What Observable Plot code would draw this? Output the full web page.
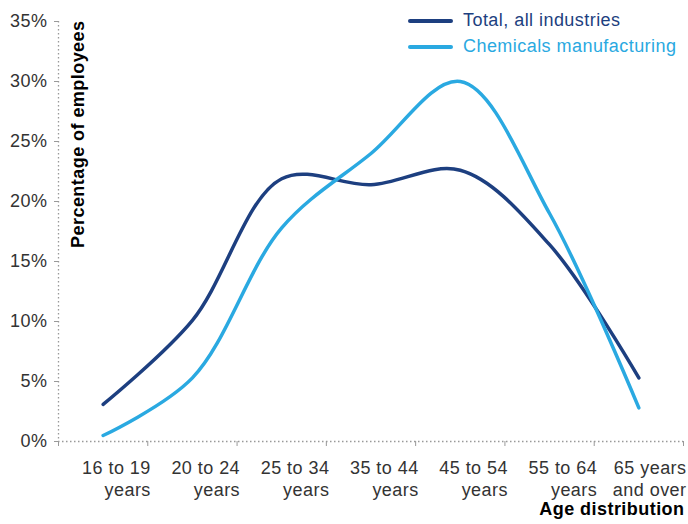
<!DOCTYPE html>
<html>
<head>
<meta charset="utf-8">
<script src="https://cdn.jsdelivr.net/npm/d3@7"></script>
<script src="https://cdn.jsdelivr.net/npm/@observablehq/plot@0.6"></script>
<style>
  html, body { margin: 0; padding: 0; background: #fff; }
  #wrap { position: relative; width: 688px; height: 524px; font-family: "Liberation Sans", Arial, Helvetica, sans-serif; }
  .leg { position: absolute; left: 408px; display: flex; align-items: center; font-size: 18px; letter-spacing: 0.45px; white-space: nowrap; }
  .leg .sw { width: 45px; height: 4px; border-radius: 2px; margin-right: 10px; }
</style>
</head>
<body>
<div id="wrap"></div>
<script>
const categories = ["16 to 19\nyears", "20 to 24\nyears", "25 to 34\nyears", "35 to 44\nyears", "45 to 54\nyears", "55 to 64\nyears", "65 years\nand over"];
const totalAll = [3.1, 10.1, 21.9, 21.4, 22.6, 16.4, 5.3];
const chemicals = [0.5, 5.3, 17.8, 24.0, 30.0, 19.0, 2.8];
const yTicks = [0, 5, 10, 15, 20, 25, 30, 35];
const seriesNames = ["Total, all industries", "Chemicals manufacturing"];
const seriesColors = ["#1d3f80", "#2aa9e1"];
const yLabel = "Percentage of employees";
const xLabel = "Age distribution";

const n = categories.length;
const boundaries = d3.range(n + 1).map(i => i - 0.5);

const chart = Plot.plot({
  width: 688,
  height: 524,
  marginLeft: 58,
  marginRight: 5,
  marginTop: 21,
  marginBottom: 83,
  style: { fontFamily: '"Liberation Sans", Arial, Helvetica, sans-serif', fontSize: "18px", letterSpacing: "0.45px", background: "#fff" },
  x: { domain: [-0.5, n - 0.5], axis: null },
  y: { domain: [0, 35], axis: null },
  marks: [
    Plot.ruleX([-0.5], { stroke: "#999", strokeDasharray: "1.5,2.5", strokeWidth: 1.3 }),
    Plot.ruleY([0], { stroke: "#999", strokeDasharray: "1.5,2.5", strokeWidth: 1.3 }),
    Plot.axisY({ ticks: yTicks, tickSize: 4, tickPadding: 7, tickFormat: d => d + "%", stroke: "#999", fill: "#333", fontSize: 18, label: null }),
    Plot.axisX({ ticks: boundaries, tickSize: 5, text: null, stroke: "#999", label: null }),
    Plot.text(categories, { x: (d, i) => i + 0.5, frameAnchor: "bottom", textAnchor: "end", lineAnchor: "top", dx: 3, dy: 18, lineHeight: 1.17, fill: "#333", fontSize: 18 }),
    Plot.line(totalAll, { x: (d, i) => i, y: d => d, curve: "catmull-rom", stroke: seriesColors[0], strokeWidth: 3.5, strokeLinecap: "round" }),
    Plot.line(chemicals, { x: (d, i) => i, y: d => d, curve: "catmull-rom", stroke: seriesColors[1], strokeWidth: 3.5, strokeLinecap: "round" }),
    Plot.text([yLabel], { frameAnchor: "top-left", rotate: -90, textAnchor: "end", lineAnchor: "middle", dx: 20, dy: -1, fontWeight: "bold", fill: "#000", fontSize: 18 }),
    Plot.text([xLabel], { frameAnchor: "bottom-right", textAnchor: "end", dx: 1, dy: 73, fontWeight: "bold", fill: "#000", fontSize: 18 })
  ]
});

const wrap = document.getElementById("wrap");
wrap.appendChild(chart);
const legTops = [10, 36];
seriesNames.forEach((name, i) => {
  const d = document.createElement("div");
  d.className = "leg";
  d.style.top = legTops[i] + "px";
  d.style.color = seriesColors[i];
  d.innerHTML = `<span class="sw" style="background:${seriesColors[i]}"></span><span>${name}</span>`;
  wrap.appendChild(d);
});
</script>
</body>
</html>
